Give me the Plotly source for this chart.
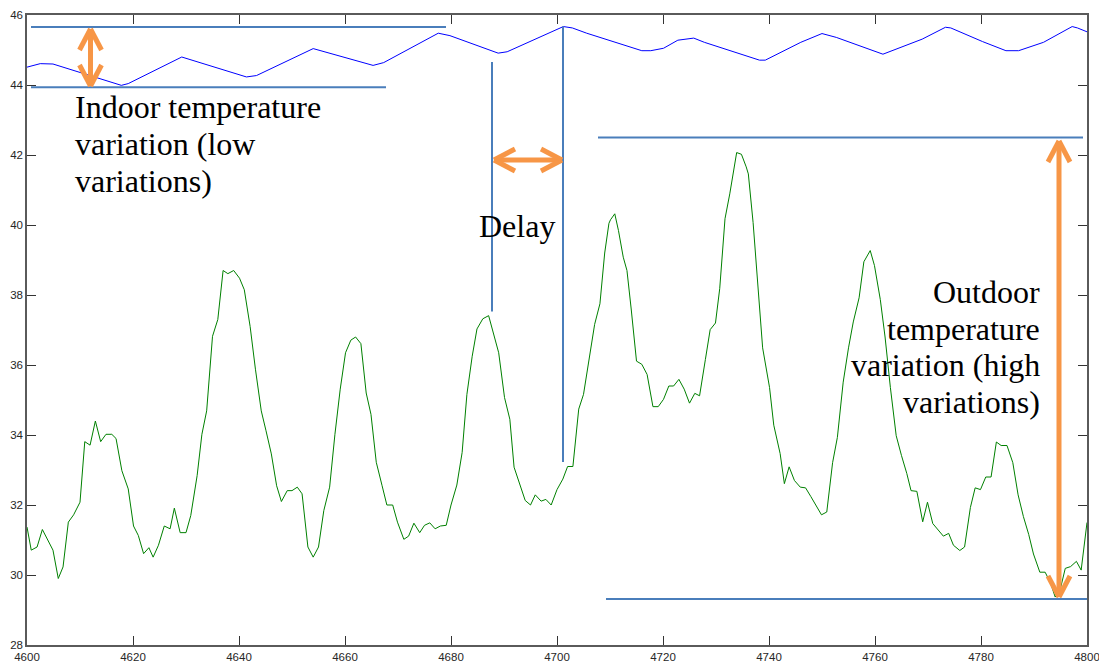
import plotly.graph_objects as go

# ---------------- data ----------------
indoor_x = [4600.0, 4602.5, 4604.9, 4617.8, 4619.1, 4629.2, 4641.4, 4643.3, 4654.0,
            4665.3, 4667.3, 4677.6, 4679.8, 4688.9, 4690.6, 4701.2, 4702.9, 4705.6,
            4716.0, 4717.7, 4720.1, 4722.8, 4725.8, 4727.8, 4738.2, 4739.3, 4746.0,
            4750.0, 4752.7, 4761.5, 4768.9, 4773.3, 4774.3, 4780.3, 4784.7, 4787.1,
            4791.8, 4797.2, 4798.2, 4800.0]
indoor_y = [44.51, 44.61, 44.60, 43.99, 44.04, 44.80, 44.23, 44.27, 45.04,
            44.56, 44.64, 45.48, 45.41, 44.91, 44.95, 45.67, 45.63, 45.48,
            44.98, 44.98, 45.05, 45.28, 45.34, 45.22, 44.71, 44.71, 45.22,
            45.47, 45.36, 44.88, 45.31, 45.65, 45.63, 45.24, 44.98, 44.98,
            45.22, 45.67, 45.63, 45.52]

outdoor_x = [4600.0, 4600.8, 4601.9, 4602.9, 4604.9, 4605.9, 4606.8, 4607.8, 4608.8, 4610.0,
             4610.9, 4611.9, 4612.9, 4613.9, 4614.9, 4616.0, 4616.8, 4617.9, 4619.1, 4620.1,
             4621.0, 4622.0, 4623.0, 4623.8, 4624.8, 4625.9, 4627.0, 4627.8, 4628.9, 4630.0,
             4630.9, 4632.1, 4633.0, 4633.9, 4635.0, 4636.0, 4637.0, 4637.9, 4639.0, 4640.1,
             4641.0, 4642.1, 4643.1, 4644.2, 4645.1, 4646.1, 4647.1, 4648.0, 4649.1, 4650.0,
             4651.0, 4651.9, 4653.0, 4654.0, 4655.0, 4656.0, 4657.1, 4658.1, 4659.1, 4660.1,
             4661.1, 4662.0, 4663.0, 4664.0, 4664.9, 4665.9, 4667.0, 4667.9, 4669.0, 4669.9,
             4671.1, 4672.0, 4673.0, 4674.1, 4675.0, 4676.0, 4677.0, 4678.0, 4679.1, 4680.0,
             4681.1, 4682.1, 4683.0, 4684.0, 4684.9, 4686.0, 4687.1, 4688.1, 4689.0, 4690.1,
             4691.1, 4691.9, 4693.0, 4694.0, 4695.0, 4695.9, 4697.0, 4697.9, 4698.9, 4700.0,
             4701.1, 4702.0, 4703.0, 4704.1, 4705.0, 4706.2, 4707.1, 4708.1, 4709.0, 4709.8,
             4710.1, 4710.9, 4711.6, 4712.5, 4713.2, 4714.0, 4715.0, 4716.0, 4717.0, 4718.1,
             4719.1, 4720.1, 4721.1, 4722.0, 4723.0, 4724.0, 4725.0, 4726.0, 4726.9, 4728.0,
             4728.9, 4729.9, 4730.7, 4731.7, 4732.6, 4733.9, 4734.8, 4735.7, 4736.1, 4737.0,
             4737.8, 4738.8, 4740.1, 4740.9, 4742.1, 4742.9, 4743.8, 4744.8, 4745.9, 4746.9,
             4747.9, 4749.0, 4749.9, 4750.9, 4752.0, 4752.9, 4754.0, 4755.0, 4755.9, 4757.0,
             4757.9, 4759.1, 4759.9, 4761.0, 4761.9, 4762.9, 4764.0, 4765.0, 4766.0, 4766.8,
             4767.9, 4769.0, 4769.9, 4770.9, 4772.0, 4772.9, 4773.9, 4774.8, 4776.0, 4776.9,
             4778.0, 4778.9, 4779.9, 4780.9, 4781.9, 4782.9, 4783.8, 4784.9, 4786.0, 4787.0,
             4788.0, 4789.0, 4789.9, 4791.1, 4792.1, 4793.1, 4794.0, 4795.0, 4795.9, 4796.9,
             4798.0, 4798.9, 4800.0]
outdoor_y = [31.37, 30.71, 30.80, 31.30, 30.71, 29.90, 30.23, 31.51, 31.72, 32.08,
             33.81, 33.71, 34.40, 33.81, 34.02, 34.02, 33.90, 32.98, 32.46, 31.40,
             31.13, 30.61, 30.78, 30.51, 30.85, 31.40, 31.32, 31.91, 31.21, 31.21,
             31.70, 32.84, 34.02, 34.69, 36.82, 37.30, 38.70, 38.61, 38.70, 38.48,
             38.15, 37.10, 35.88, 34.69, 34.12, 33.46, 32.55, 32.10, 32.41, 32.41,
             32.51, 32.32, 30.80, 30.51, 30.80, 31.84, 32.51, 34.02, 35.31, 36.35,
             36.71, 36.80, 36.61, 35.20, 34.59, 33.22, 32.55, 32.00, 32.00, 31.51,
             31.02, 31.11, 31.48, 31.21, 31.42, 31.49, 31.32, 31.40, 31.42, 32.00,
             32.57, 33.50, 35.16, 36.25, 37.03, 37.32, 37.41, 36.87, 36.35, 35.07,
             34.45, 33.08, 32.55, 32.13, 32.00, 32.29, 32.11, 32.16, 32.00, 32.44,
             32.74, 33.10, 33.10, 34.74, 35.16, 36.35, 37.16, 37.75, 39.20, 40.05,
             40.15, 40.32, 39.84, 39.08, 38.70, 37.60, 36.11, 36.02, 35.73, 34.81,
             34.81, 35.02, 35.40, 35.40, 35.59, 35.31, 34.91, 35.19, 35.12, 36.16,
             37.01, 37.20, 38.18, 40.18, 40.89, 42.07, 42.02, 41.66, 41.46, 40.07,
             38.43, 36.49, 35.36, 34.28, 33.47, 32.61, 33.09, 32.70, 32.51, 32.49,
             32.24, 31.93, 31.72, 31.80, 33.21, 33.93, 35.51, 36.49, 37.23, 37.92,
             38.95, 39.27, 38.84, 37.87, 36.80, 35.36, 33.98, 33.41, 32.90, 32.41,
             32.39, 31.52, 32.08, 31.47, 31.26, 31.11, 31.19, 30.85, 30.70, 30.80,
             31.93, 32.49, 32.44, 32.80, 32.80, 33.80, 33.70, 33.70, 33.21, 32.29,
             31.67, 31.16, 30.60, 30.08, 30.08, 29.78, 29.37, 29.62, 30.19, 30.24,
             30.39, 30.14, 31.50]

x_ticks = [4600, 4620, 4640, 4660, 4680, 4700, 4720, 4740, 4760, 4780, 4800]
y_ticks = [28, 30, 32, 34, 36, 38, 40, 42, 44, 46]

# ---------------- geometry helpers (annotation layer) ----------------
W, H = 1099, 664
ML, MR, MT, MB = 27, 12, 15, 19
X0, X1 = 4600, 4800
Y0, Y1 = 28, 46
PW, PH = W - ML - MR, H - MT - MB
SX = PW / (X1 - X0)   # px per x unit
SY = PH / (Y1 - Y0)   # px per y unit


def px(xp):
    return X0 + (xp - ML) / SX


def py(yp):
    return Y1 - (yp - MT) / SY


BLUE_ANN = "#4A7EBB"
ORANGE = "#F79646"

shapes = []


def seg(x0, y0, x1, y1, color, width):
    shapes.append(dict(type="line", xref="x", yref="y", x0=x0, y0=y0, x1=x1, y1=y1,
                       line=dict(color=color, width=width), layer="above"))


# blue annotation lines (pixel positions)
seg(px(31), py(27), px(446), py(27), BLUE_ANN, 2)
seg(px(31), py(87.3), px(386), py(87.3), BLUE_ANN, 2)
seg(px(492), py(62), px(492), py(311.5), BLUE_ANN, 2)
seg(px(563), py(26.5), px(563), py(462), BLUE_ANN, 2)
seg(px(598), py(137.5), px(1083), py(137.5), BLUE_ANN, 2)
seg(px(606), py(599), px(1090), py(599), BLUE_ANN, 2)


def double_arrow(xa, ya, xb, yb, along=21, perp=11, width=5):
    # endpoints in pixels
    seg(px(xa), py(ya), px(xb), py(yb), ORANGE, width)
    dx, dy = xb - xa, yb - ya
    L = (dx * dx + dy * dy) ** 0.5
    ux, uy = dx / L, dy / L
    nx, ny = -uy, ux
    for (tx, ty, s) in ((xa, ya, 1), (xb, yb, -1)):
        for k in (1, -1):
            ex = tx + s * ux * along + k * nx * perp
            ey = ty + s * uy * along + k * ny * perp
            seg(px(tx), py(ty), px(ex), py(ey), ORANGE, width)


double_arrow(90.5, 29, 90.5, 86)
double_arrow(494, 160, 562, 160)
double_arrow(1059, 141, 1059, 597)

TXT = dict(family="Liberation Serif, Times New Roman, serif", size=32, color="#000000")
annotations = []


def label(text, xp, yp, anchor):
    annotations.append(dict(text=text, x=px(xp), y=py(yp), xref="x", yref="y",
                            xanchor=anchor, yanchor="middle", showarrow=False, font=TXT))


label("Indoor temperature", 73, 107, "left")
label("variation (low", 73, 144, "left")
label("variations)", 73, 181, "left")
label("Delay", 517, 226, "center")
label("Outdoor", 1042, 292, "right")
label("temperature", 1042, 329, "right")
label("variation (high", 1042, 365, "right")
label("variations)", 1042, 402, "right")

# ---------------- figure ----------------
fig = go.Figure()
fig.add_trace(go.Scatter(x=indoor_x, y=indoor_y, mode="lines",
                         line=dict(color="#0000FF", width=1), name="Indoor"))
fig.add_trace(go.Scatter(x=outdoor_x, y=outdoor_y, mode="lines",
                         line=dict(color="#008000", width=1), name="Outdoor"))

axis_common = dict(showgrid=False, zeroline=False, showline=True, linecolor="#5a5a5a",
                   linewidth=1.5, mirror="ticks", ticks="inside", ticklen=9,
                   tickcolor="#333333", tickwidth=1, ticklabeloverflow="allow",
                   tickfont=dict(family="Liberation Sans, Arial, sans-serif", size=11.5,
                                 color="#262626"),
                   automargin=False, fixedrange=True)

fig.update_layout(
    width=W, height=H, template="none",
    margin=dict(l=ML, r=MR, t=MT, b=MB, pad=0),
    paper_bgcolor="white", plot_bgcolor="white",
    showlegend=False,
    xaxis=dict(range=[X0, X1], tickvals=x_ticks, ticktext=[str(v) for v in x_ticks],
               **axis_common),
    yaxis=dict(range=[Y0, Y1], tickvals=y_ticks, ticktext=[str(v) for v in y_ticks],
               **axis_common),
    shapes=shapes,
    annotations=annotations,
)

fig.write_html("out.html")
